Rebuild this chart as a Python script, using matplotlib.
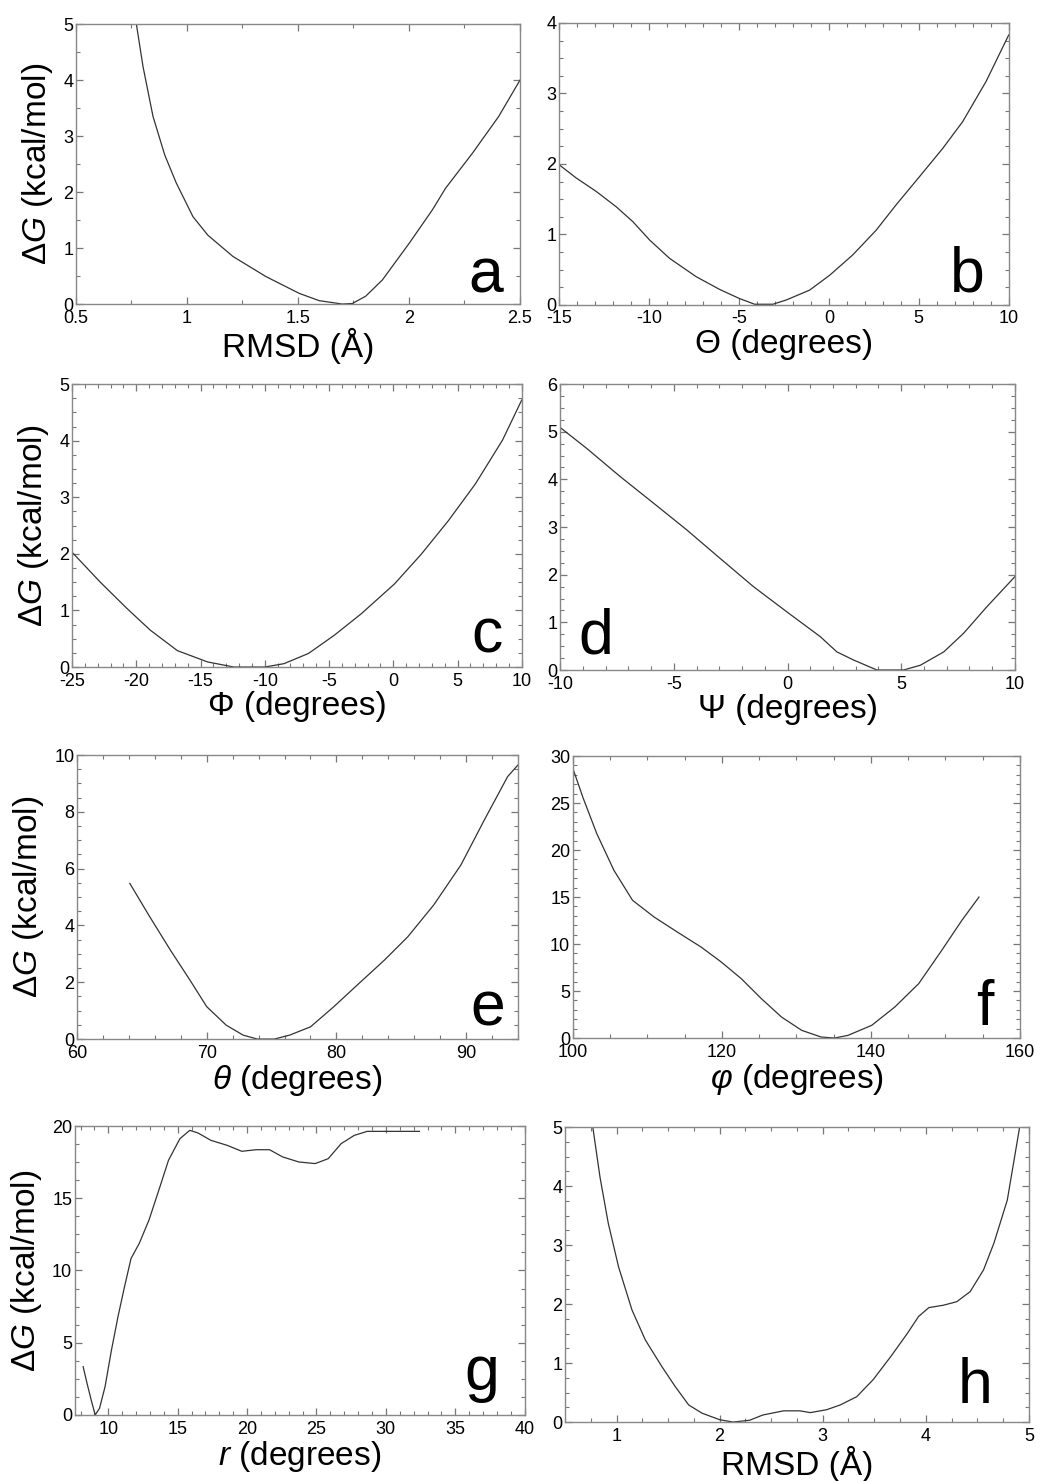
import matplotlib
matplotlib.use("Agg")
import matplotlib.pyplot as plt
from matplotlib.ticker import MultipleLocator, FormatStrFormatter

plt.rcParams['font.family'] = ['Liberation Sans', 'DejaVu Sans']
plt.rcParams['mathtext.fontset'] = 'custom'
plt.rcParams['mathtext.rm'] = 'Liberation Sans'
plt.rcParams['mathtext.it'] = 'Liberation Sans:italic'
plt.rcParams['axes.unicode_minus'] = False

# free energy profiles
rmsd_a = [0.772, 0.802, 0.847, 0.90, 0.952, 1.027, 1.094, 1.207, 1.356, 1.506, 1.596,
          1.70, 1.745, 1.805, 1.88, 2.0, 2.105, 2.165, 2.285, 2.404, 2.5]
dg_a = [5.0, 4.24, 3.35, 2.66, 2.16, 1.56, 1.23, 0.85, 0.49, 0.19, 0.06,
        0.0, 0.01, 0.14, 0.43, 1.08, 1.68, 2.07, 2.69, 3.35, 4.0]

theta_b = [-15, -14.04, -12.93, -11.81, -10.89, -9.96, -8.85, -7.37, -6.07, -4.96, -4.13,
           -3.11, -2.37, -1.07, 0.04, 1.33, 2.63, 3.74, 5.04, 6.33, 7.44, 8.74, 10]
dg_b = [1.99, 1.80, 1.61, 1.39, 1.18, 0.92, 0.66, 0.40, 0.22, 0.09, 0.01,
        0.01, 0.07, 0.21, 0.42, 0.71, 1.06, 1.42, 1.82, 2.22, 2.60, 3.17, 3.83]

phi_c = [-25, -22.8, -20.7, -18.9, -16.8, -14.45, -12.4, -10.0, -8.5, -6.6, -4.6,
         -2.5, 0.1, 2.2, 4.3, 6.4, 8.5, 10]
dg_c = [2.03, 1.50, 1.03, 0.65, 0.29, 0.09, 0.0, 0.0, 0.06, 0.24, 0.56,
        0.94, 1.47, 2.0, 2.59, 3.24, 4.01, 4.72]

psi_d = [-10, -8.83, -7.36, -5.89, -4.43, -2.96, -1.50, -0.03, 1.44, 2.17, 2.9,
         3.93, 5.1, 5.84, 6.87, 7.74, 8.77, 10]
dg_d = [5.09, 4.65, 4.06, 3.50, 2.94, 2.34, 1.75, 1.22, 0.70, 0.38, 0.21,
        0.0, 0.0, 0.10, 0.38, 0.77, 1.33, 1.96]

theta_e = [64.07, 65.6, 67.2, 68.7, 70.0, 71.5, 72.8, 73.9, 75.2, 76.4, 78.0, 79.8,
           81.6, 83.7, 85.5, 87.5, 89.6, 91.4, 93.2, 94.0]
dg_e = [5.48, 4.31, 3.13, 2.08, 1.14, 0.49, 0.14, 0.0, 0.0, 0.14, 0.43, 1.14,
        1.90, 2.78, 3.60, 4.72, 6.13, 7.71, 9.24, 9.65]

phi_f = [100, 101.4, 103.2, 105.5, 108.0, 110.9, 114.0, 117.2, 119.9, 122.6, 125.3,
         128.0, 130.7, 133.3, 135.1, 136.9, 140.1, 143.2, 146.4, 149.5, 152.2, 154.5]
dg_f = [28.65, 25.46, 21.74, 17.84, 14.65, 12.87, 11.28, 9.68, 8.09, 6.31, 4.18,
        2.23, 0.82, 0.11, 0.0, 0.28, 1.35, 3.30, 5.78, 9.33, 12.52, 15.0]

r_g = [8.19, 8.47, 8.83, 9.06, 9.37, 9.77, 10.23, 10.70, 11.17, 11.64, 12.23, 12.93,
       13.64, 14.34, 15.16, 15.87, 16.46, 17.39, 18.57, 19.62, 20.68, 21.62, 22.56,
       23.73, 24.91, 25.85, 26.78, 27.72, 28.66, 30.07, 32.42]
dg_g = [3.34, 2.19, 0.81, 0.0, 0.46, 1.96, 4.49, 6.80, 8.87, 10.83, 11.87, 13.48,
        15.55, 17.63, 19.12, 19.70, 19.52, 19.01, 18.66, 18.25, 18.36, 18.36, 17.86,
        17.51, 17.40, 17.74, 18.78, 19.35, 19.63, 19.63, 19.63]

rmsd_h = [0.77, 0.84, 0.92, 1.02, 1.15, 1.28, 1.44, 1.57, 1.70, 1.83, 2.0, 2.13,
          2.29, 2.42, 2.62, 2.78, 2.88, 3.04, 3.17, 3.33, 3.49, 3.66, 3.82, 3.93,
          4.03, 4.17, 4.30, 4.43, 4.56, 4.66, 4.79, 4.91]
dg_h = [5.0, 4.15, 3.37, 2.63, 1.90, 1.39, 0.94, 0.60, 0.29, 0.15, 0.04, 0.0,
        0.03, 0.12, 0.19, 0.19, 0.16, 0.21, 0.29, 0.43, 0.72, 1.11, 1.50, 1.79,
        1.94, 1.98, 2.04, 2.21, 2.58, 3.03, 3.76, 5.0]

DG_LABEL = r'$\Delta\mathit{G}$ (kcal/mol)'

# one entry per panel: data, axis label, limits, tick steps, letter placement
PANELS = [
    dict(x=rmsd_a, y=dg_a, xlabel='RMSD (Å)', xlim=(0.5, 2.5), ylim=(0, 5),
         xmaj=0.5, xmin=0.25, ymaj=1, ymin=0.5, letter='a', lpos=(0.962, 0.043, 'right'),
         rect=(0.073, 0.7947, 0.4265, 0.189), ylab=True),
    dict(x=theta_b, y=dg_b, xlabel='Θ (degrees)', xlim=(-15, 10), ylim=(0, 4),
         xmaj=5, xmin=1, ymaj=1, ymin=0.25, letter='b', lpos=(0.947, 0.046, 'right'),
         rect=(0.537, 0.7941, 0.432, 0.1904), ylab=False),
    dict(x=phi_c, y=dg_c, xlabel='Φ (degrees)', xlim=(-25, 10), ylim=(0, 5),
         xmaj=5, xmin=1, ymaj=1, ymin=0.25, letter='c', lpos=(0.958, 0.053, 'right'),
         rect=(0.0692, 0.5496, 0.432, 0.191), ylab=True),
    dict(x=psi_d, y=dg_d, xlabel='Ψ (degrees)', xlim=(-10, 10), ylim=(0, 6),
         xmaj=5, xmin=1, ymaj=1, ymin=0.25, letter='d', lpos=(0.040, 0.059, 'left'),
         rect=(0.538, 0.5476, 0.437, 0.1931), ylab=False),
    dict(x=theta_e, y=dg_e, xlabel=r'$\theta$ (degrees)', xlim=(60, 94), ylim=(0, 10),
         xmaj=10, xmin=2, ymaj=2, ymin=0.5, letter='e', lpos=(0.97, 0.049, 'right'),
         rect=(0.074, 0.2984, 0.4236, 0.1918), ylab=True),
    dict(x=phi_f, y=dg_f, xlabel=r'$\varphi$ (degrees)', xlim=(100, 160), ylim=(0, 30),
         xmaj=20, xmin=5, ymaj=5, ymin=1, letter='f', lpos=(0.94, 0.046, 'right'),
         rect=(0.5504, 0.2991, 0.4294, 0.1904), ylab=False),
    dict(x=r_g, y=dg_g, xlabel=r'$r$ (degrees)', xlim=(7.6, 40), ylim=(0, 20),
         xmaj=5, xmin=1, ymaj=5, ymin=1.25, letter='g', lpos=(0.944, 0.087, 'right'),
         rect=(0.072, 0.0446, 0.432, 0.1951), ylab=True),
    dict(x=rmsd_h, y=dg_h, xlabel='RMSD (Å)', xlim=(0.5, 5), ylim=(0, 5),
         xmaj=1, xmin=0.25, ymaj=1, ymin=0.25, letter='h', lpos=(0.922, 0.064, 'right'),
         rect=(0.5427, 0.0398, 0.4457, 0.1992), ylab=False),
]


def draw_panel(fig, p):
    ax = fig.add_axes(p['rect'])
    ax.plot(p['x'], p['y'], color='#333333', lw=0.9)
    ax.set_xlim(*p['xlim'])
    ax.set_ylim(*p['ylim'])
    ax.xaxis.set_major_locator(MultipleLocator(p['xmaj']))
    ax.xaxis.set_minor_locator(MultipleLocator(p['xmin']))
    ax.yaxis.set_major_locator(MultipleLocator(p['ymaj']))
    ax.yaxis.set_minor_locator(MultipleLocator(p['ymin']))
    ax.xaxis.set_major_formatter(FormatStrFormatter('%g'))
    ax.yaxis.set_major_formatter(FormatStrFormatter('%g'))
    ax.tick_params(which='both', direction='in', top=True, right=True,
                   color='#777777', labelsize=13)
    ax.tick_params(axis='x', which='both', pad=4)
    ax.tick_params(axis='y', which='both', pad=2)
    ax.tick_params(which='major', length=5, width=0.9)
    ax.tick_params(which='minor', length=3, width=0.8)
    for s in ax.spines.values():
        s.set_color('#888888')
        s.set_linewidth(1.0)
    ax.set_xlabel(p['xlabel'], fontsize=24, labelpad=1)
    if p['ylab']:
        ax.set_ylabel(DG_LABEL, fontsize=24, labelpad=6)
    lx, ly, ha = p['lpos']
    ax.text(lx, ly, p['letter'], transform=ax.transAxes, fontsize=45,
            ha=ha, va='baseline')
    return ax


def main():
    fig = plt.figure(figsize=(10.41, 14.81), dpi=100)
    for p in PANELS:
        draw_panel(fig, p)
    fig.savefig('out.png', dpi=100)


if __name__ == "__main__":
    main()
